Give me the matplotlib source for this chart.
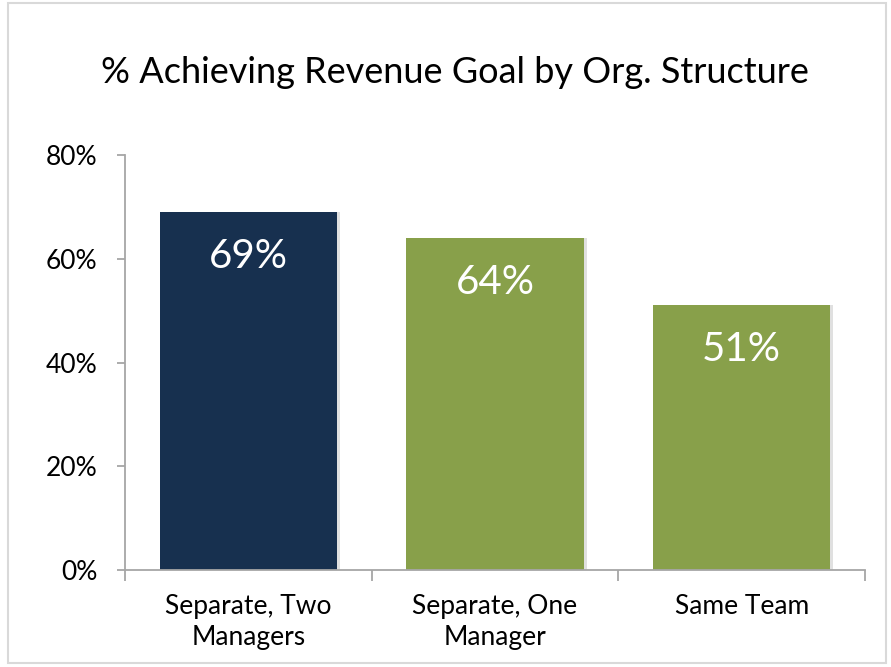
import matplotlib

matplotlib.use("Agg")
import matplotlib.pyplot as plt
from matplotlib.patches import Rectangle

categories = ["Separate, Two\nManagers", "Separate, One\nManager", "Same Team"]
values = [69, 64, 51]
bar_colors = ["#17304F", "#88A04A", "#88A04A"]
yticks = [0, 20, 40, 60, 80]

plt.rcParams["font.family"] = ["Lato", "DejaVu Sans"]

fig = plt.figure(figsize=(8.91, 6.67), dpi=100)
ax = fig.add_axes([0.1403, 0.1454, 0.8305, 0.6222])

x = list(range(len(values)))
# soft drop shadow under each bar
ax.bar([i + 0.012 for i in x], values, width=0.72, color="#000000", alpha=0.12, zorder=1)
ax.bar(x, values, width=0.72, color=bar_colors, zorder=2)
for i, v in zip(x, values):
    ax.text(i, v - 8.5, f"{v}%", ha="center", va="center", color="white", fontsize=29, zorder=3)

ax.set_xlim(-0.5, 2.5)
ax.set_ylim(0, 80)
ax.set_yticks(yticks)
ax.set_yticklabels([f"{t}%" for t in yticks], fontsize=19)
ax.set_xticks(x)
ax.set_xticklabels(categories, fontsize=19, linespacing=1.3)
ax.set_xticks([-0.5, 0.5, 1.5, 2.5], minor=True)
ax.tick_params(axis="x", which="major", length=0, pad=17)
ax.tick_params(axis="x", which="minor", length=8, color="#A6A6A6", width=1.3)
ax.tick_params(axis="y", length=6, color="#A6A6A6", width=1.3, pad=14)

for s in ("top", "right"):
    ax.spines[s].set_visible(False)
for s in ("left", "bottom"):
    ax.spines[s].set_color("#A6A6A6")
    ax.spines[s].set_linewidth(1.3)

fig.text(0.511, 0.891, "% Achieving Revenue Goal by Org. Structure", ha="center", va="center", fontsize=26)

fig.patches.append(Rectangle((0.009, 0.006), 0.985, 0.99, transform=fig.transFigure,
                             fill=False, edgecolor="#D9D9D9", linewidth=1.5))

fig.savefig("out.png", dpi=100)
